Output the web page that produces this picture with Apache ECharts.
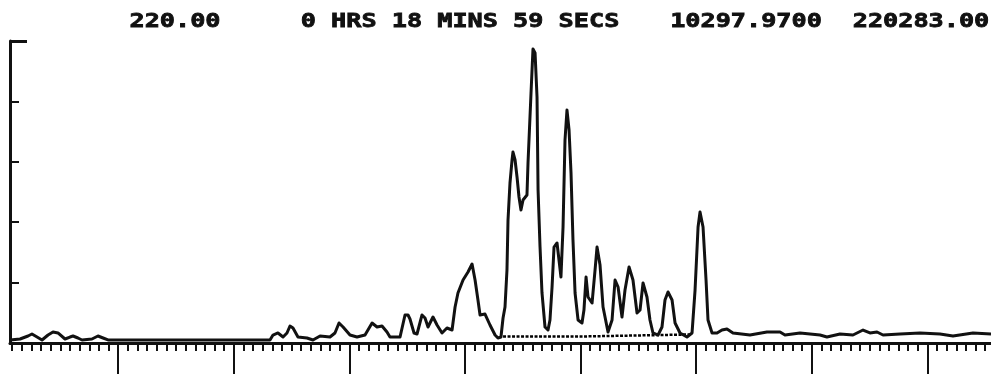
<!DOCTYPE html>
<html>
<head>
<meta charset="utf-8">
<script src="https://cdn.jsdelivr.net/npm/echarts@6/dist/echarts.min.js"></script>
<style>
  html, body { margin: 0; padding: 0; background: #fff; }
  #chart { width: 991px; height: 374px; }
</style>
</head>
<body>
<div id="chart"></div>
<script>
// ---- header texts ----
const headerTexts = ['220.00', '0 HRS 18 MINS 59 SECS', '10297.9700', '220283.00'];

// ---- axis settings (minutes / relative intensity) ----
const xMin = 0.064;
const xMax = 8.55;
const majorTicks = [1, 2, 3, 4, 5, 6, 7, 8];
const minorPerMajor = 12;
const yTicks = [0, 1, 2, 3, 4, 5];

// ---- chromatogram trace ----
const timeMin = [
  0.064, 0.151, 0.220, 0.254, 0.298, 0.341, 0.393, 0.436, 0.479, 0.540,
  0.583, 0.609, 0.652, 0.687, 0.773, 0.825, 0.869, 0.912, 2.313, 2.339,
  2.382, 2.426, 2.460, 2.486, 2.512, 2.555, 2.633, 2.685, 2.746, 2.832,
  2.875, 2.910, 2.945, 3.005, 3.066, 3.135, 3.196, 3.239, 3.282, 3.325,
  3.351, 3.438, 3.481, 3.507, 3.524, 3.559, 3.585, 3.628, 3.654, 3.680,
  3.723, 3.758, 3.801, 3.844, 3.888, 3.914, 3.939, 3.983, 4.026, 4.061,
  4.087, 4.112, 4.130, 4.173, 4.216, 4.260, 4.285, 4.311, 4.329, 4.346,
  4.363, 4.372, 4.389, 4.407, 4.415, 4.433, 4.450, 4.467, 4.484, 4.502,
  4.536, 4.545, 4.571, 4.588, 4.606, 4.623, 4.632, 4.649, 4.666, 4.692,
  4.718, 4.735, 4.753, 4.770, 4.796, 4.813, 4.830, 4.848, 4.865, 4.882,
  4.900, 4.917, 4.934, 4.952, 4.978, 5.012, 5.029, 5.047, 5.064, 5.099,
  5.125, 5.142, 5.168, 5.194, 5.237, 5.272, 5.298, 5.324, 5.358, 5.384,
  5.419, 5.453, 5.488, 5.514, 5.540, 5.574, 5.600, 5.626, 5.670, 5.704,
  5.730, 5.756, 5.791, 5.817, 5.860, 5.920, 5.964, 5.990, 6.016, 6.033,
  6.059, 6.085, 6.102, 6.137, 6.180, 6.223, 6.266, 6.318, 6.465, 6.612,
  6.725, 6.768, 6.898, 7.071, 7.131, 7.244, 7.356, 7.443, 7.503, 7.564,
  7.616, 7.763, 7.936, 8.109, 8.221, 8.394, 8.550
];
const signal = [
  0.050, 0.066, 0.116, 0.149, 0.099, 0.050, 0.132, 0.182, 0.166, 0.066,
  0.099, 0.116, 0.083, 0.050, 0.066, 0.116, 0.083, 0.050, 0.050, 0.132,
  0.166, 0.099, 0.166, 0.281, 0.248, 0.099, 0.083, 0.050, 0.116, 0.099,
  0.166, 0.331, 0.265, 0.132, 0.099, 0.132, 0.331, 0.265, 0.281, 0.182,
  0.099, 0.099, 0.464, 0.464, 0.397, 0.166, 0.149, 0.464, 0.414, 0.265,
  0.430, 0.298, 0.166, 0.248, 0.215, 0.596, 0.828, 1.043, 1.175, 1.308,
  1.043, 0.712, 0.464, 0.480, 0.298, 0.132, 0.083, 0.099, 0.414, 0.596,
  1.209, 2.036, 2.649, 3.030, 3.162, 3.030, 2.748, 2.417, 2.202, 2.368,
  2.450, 2.980, 4.139, 4.868, 4.801, 4.073, 2.533, 1.589, 0.828, 0.265,
  0.215, 0.381, 0.927, 1.589, 1.656, 1.374, 1.093, 1.921, 3.361, 3.858,
  3.526, 2.815, 1.705, 0.828, 0.381, 0.331, 0.546, 1.093, 0.762, 0.662,
  1.209, 1.589, 1.291, 0.596, 0.182, 0.381, 1.043, 0.927, 0.430, 0.877,
  1.258, 1.043, 0.497, 0.546, 0.993, 0.762, 0.381, 0.166, 0.132, 0.265,
  0.712, 0.844, 0.712, 0.331, 0.166, 0.099, 0.166, 0.877, 1.921, 2.169,
  1.921, 1.043, 0.381, 0.166, 0.166, 0.215, 0.232, 0.166, 0.132, 0.182,
  0.182, 0.132, 0.166, 0.132, 0.099, 0.149, 0.132, 0.215, 0.166, 0.182,
  0.132, 0.149, 0.166, 0.149, 0.116, 0.166, 0.149
];

// ---- integration baseline (dotted) ----
const baseTime = [4.329, 5.021, 5.030, 5.946];
const baseLevel = [0.108, 0.108, 0.141, 0.141];

// ---- build ----
const traceData = timeMin.map((t, i) => [t, signal[i]]);
const baseData = baseTime.map((t, i) => [t, baseLevel[i]]);
const minorTicks = [];
for (let k = 1; k / minorPerMajor <= xMax; k++) {
  if (k % minorPerMajor !== 0) minorTicks.push(k / minorPerMajor);
}

const ink = '#111';
const font = 'bold 20px "DejaVu Sans Mono"';
const textCenters = [175, 460, 746, 921];

const chart = echarts.init(document.getElementById('chart'), null, { renderer: 'canvas' });
chart.setOption({
  backgroundColor: '#ffffff',
  animation: false,
  grid: { left: 10, right: 0, top: 41, bottom: 31, containLabel: false },
  graphic: headerTexts.map((txt, i) => ({
    type: 'text',
    x: textCenters[i],
    y: 21.5,
    scaleX: 1.26,
    style: {
      text: txt,
      font: font,
      fill: ink,
      stroke: ink,
      lineWidth: 0.8,
      textAlign: 'center',
      textVerticalAlign: 'middle'
    }
  })),
  xAxis: [
    {
      type: 'value', min: xMin, max: xMax, position: 'bottom',
      axisLine: { show: true, onZero: false, lineStyle: { color: ink, width: 3 } },
      axisTick: { show: true, inside: false, length: 8, customValues: minorTicks,
                  lineStyle: { color: ink, width: 2 } },
      axisLabel: { show: false, customValues: minorTicks },
      splitLine: { show: false }
    },
    {
      type: 'value', min: xMin, max: xMax, position: 'bottom',
      axisLine: { show: false, onZero: false },
      axisTick: { show: true, inside: false, length: 32, customValues: majorTicks,
                  lineStyle: { color: ink, width: 2 } },
      axisLabel: { show: false, customValues: majorTicks },
      splitLine: { show: false }
    }
  ],
  yAxis: [
    {
      type: 'value', min: 0, max: 5, position: 'left',
      axisLine: { show: true, onZero: false, lineStyle: { color: ink, width: 3 } },
      axisTick: { show: true, inside: true, length: 9, customValues: yTicks.slice(1, 5),
                  lineStyle: { color: ink, width: 2 } },
      axisLabel: { show: false, customValues: yTicks.slice(1, 5) },
      splitLine: { show: false }
    },
    {
      type: 'value', min: 0, max: 5, position: 'left',
      axisLine: { show: false, onZero: false },
      axisTick: { show: true, inside: true, length: 17, customValues: [yTicks[5]],
                  lineStyle: { color: ink, width: 3 } },
      axisLabel: { show: false, customValues: [yTicks[5]] },
      splitLine: { show: false }
    }
  ],
  series: [
    {
      type: 'line', xAxisIndex: 0, yAxisIndex: 0,
      data: baseData, symbol: 'none', silent: true,
      lineStyle: { color: '#000', width: 2.5, type: [3, 1.5] }
    },
    {
      type: 'line', xAxisIndex: 0, yAxisIndex: 0,
      data: traceData, symbol: 'none', smooth: false, silent: true,
      lineStyle: { color: ink, width: 3, join: 'round' }
    }
  ]
});
</script>
</body>
</html>
